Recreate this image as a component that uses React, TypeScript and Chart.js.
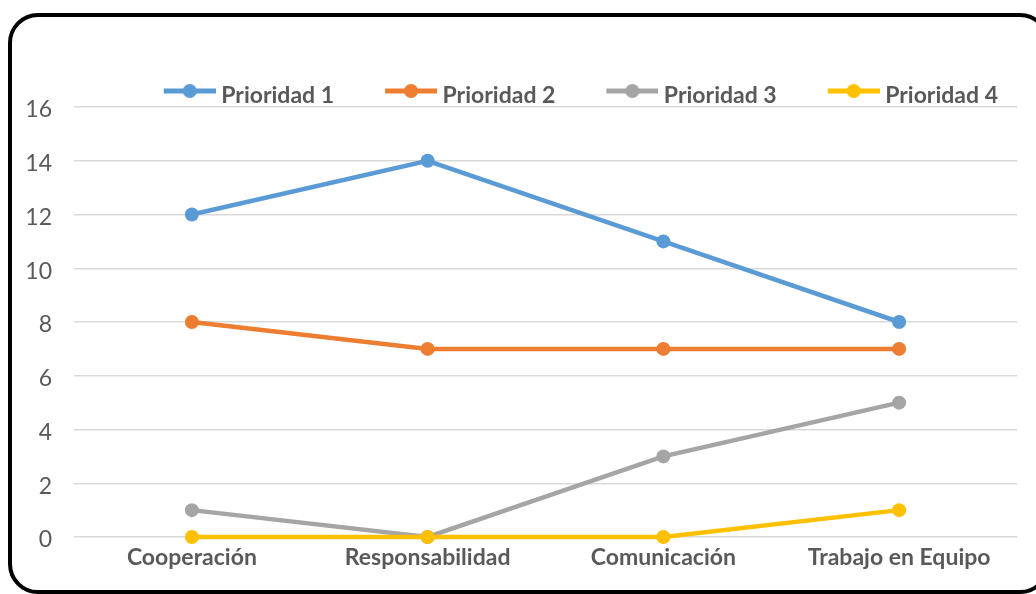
import React, { useEffect, useRef } from 'react';
import { Chart, registerables } from 'chart.js';

Chart.register(...registerables);

const categories = ['Cooperación', 'Responsabilidad', 'Comunicación', 'Trabajo en Equipo'];
const seriesNames = ['Prioridad 1', 'Prioridad 2', 'Prioridad 3', 'Prioridad 4'];
const prioridad1 = [12, 14, 11, 8];
const prioridad2 = [8, 7, 7, 7];
const prioridad3 = [1, 0, 3, 5];
const prioridad4 = [0, 0, 0, 1];
const yMin = 0;
const yMax = 16;
const yStep = 2;
const seriesColors = ['#5B9BD5', '#ED7D31', '#A5A5A5', '#FFC000'];

const FONT = 'Lato';
const TEXT_COLOR = '#595959';
const LEG_FONT = 23;
const LEG_PAD = 19;
const LEG_BOX = 78;
const PLOT_TOP = 107;
const LEG_TEXT_Y = 96;
const LEG_SHIFT = LEG_TEXT_Y - (PLOT_TOP - LEG_FONT / 2 - 10);

function makeIcon(color: string): HTMLCanvasElement {
  const c = document.createElement('canvas');
  c.width = 90;
  c.height = 30;
  const ctx = c.getContext('2d')!;
  ctx.strokeStyle = color;
  ctx.lineWidth = 5;
  ctx.beginPath();
  ctx.moveTo(38, 10);
  ctx.lineTo(90, 10);
  ctx.stroke();
  ctx.fillStyle = color;
  ctx.beginPath();
  ctx.arc(64, 10, 7, 0, Math.PI * 2);
  ctx.fill();
  return c;
}

const legendShift = {
  id: 'legendShift',
  afterLayout(chart: any) {
    const l = chart.legend;
    if (l) {
      l.top += LEG_SHIFT;
      l.bottom += LEG_SHIFT;
    }
  },
};

export default function App() {
  const ref = useRef<HTMLCanvasElement | null>(null);

  useEffect(() => {
    let chart: Chart | null = null;
    let cancelled = false;
    const build = () => {
      if (cancelled || !ref.current) return;
      const seriesData = [prioridad1, prioridad2, prioridad3, prioridad4];
      const icons = seriesColors.map(makeIcon);
      chart = new Chart(ref.current, {
        type: 'line',
        data: {
          labels: categories,
          datasets: seriesData.map((d, i) => ({
            label: seriesNames[i],
            data: d,
            borderColor: seriesColors[i],
            backgroundColor: seriesColors[i],
            pointBackgroundColor: seriesColors[i],
            pointBorderColor: seriesColors[i],
            borderWidth: 4.5,
            pointRadius: 7,
            pointBorderWidth: 0,
            tension: 0,
            fill: false,
            clip: false,
            order: 4 - i,
          })),
        },
        options: {
          responsive: false,
          animation: false,
          devicePixelRatio: 1,
          layout: { padding: { top: PLOT_TOP - (LEG_FONT + LEG_PAD + 10), left: 8, right: 19, bottom: 0 } },
          plugins: {
            tooltip: { enabled: false },
            legend: {
              position: 'top',
              align: 'end',
              labels: {
                usePointStyle: true,
                pointStyleWidth: LEG_BOX,
                padding: LEG_PAD,
                color: TEXT_COLOR,
                font: { family: FONT, size: LEG_FONT, weight: 'bold' },
                generateLabels: (c: any) =>
                  c.data.datasets.map((ds: any, i: number) => ({
                    text: ds.label,
                    pointStyle: icons[i],
                    fillStyle: seriesColors[i],
                    strokeStyle: seriesColors[i],
                    lineWidth: 0,
                    hidden: false,
                    datasetIndex: i,
                    fontColor: TEXT_COLOR,
                  })),
              },
            },
          },
          scales: {
            x: {
              offset: true,
              grid: { display: false, drawTicks: false },
              border: { display: false },
              ticks: {
                color: TEXT_COLOR,
                font: { family: FONT, size: 23, weight: 'bold' },
                padding: 7,
                maxRotation: 0,
                autoSkip: false,
              },
              afterFit: (s: any) => {
                s.height = 57;
              },
            },
            y: {
              min: yMin,
              max: yMax,
              grid: { color: '#D9D9D9', lineWidth: 1.5, drawTicks: false },
              border: { display: false },
              ticks: {
                stepSize: yStep,
                color: TEXT_COLOR,
                font: { family: FONT, size: 23 },
                padding: 22,
                labelOffset: 3,
              },
              afterFit: (s: any) => {
                s.width = 66;
              },
            },
          },
        },
        plugins: [legendShift],
      } as any);
    };
    const fonts = (document as any).fonts;
    if (fonts && fonts.load) {
      Promise.all([
        fonts.load(`bold ${LEG_FONT}px ${FONT}`),
        fonts.load(`23px ${FONT}`),
      ]).then(build, build);
    } else {
      build();
    }
    return () => {
      cancelled = true;
      if (chart) chart.destroy();
    };
  }, []);

  return (
    <>
      <div
        style={{
          position: 'fixed',
          left: 8,
          top: 13,
          width: 1042,
          height: 581,
          boxSizing: 'border-box',
          border: '4px solid #000',
          borderRadius: 30,
          background: '#fff',
        }}
      />
      <canvas
        ref={ref}
        width={1036}
        height={594}
        style={{ position: 'fixed', left: 0, top: 0, width: 1036, height: 594 }}
      />
    </>
  );
}
